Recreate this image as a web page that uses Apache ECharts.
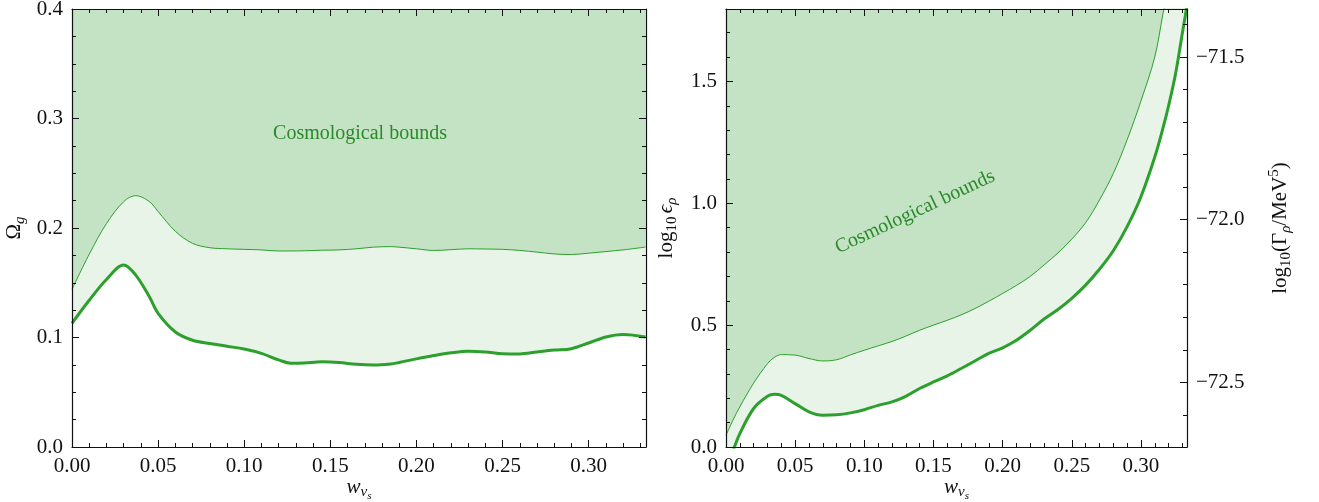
<!DOCTYPE html>
<html>
<head>
<meta charset="utf-8">
<script src="https://cdn.jsdelivr.net/npm/echarts@6/dist/echarts.min.js"></script>
<style>
html, body { margin: 0; padding: 0; background: #fff; }
#main { width: 1319px; height: 502px; }
</style>
</head>
<body>
<div id="main"></div>
<script>
// left panel: Omega_g bounds vs w
const wLeft = [0, 0.01, 0.02, 0.03, 0.037, 0.045, 0.05, 0.06, 0.07, 0.08, 0.09, 0.10, 0.11, 0.12, 0.127, 0.135,
    0.145, 0.155, 0.165, 0.175, 0.185, 0.19, 0.20, 0.21, 0.22, 0.23, 0.24, 0.25, 0.26, 0.27, 0.28, 0.29, 0.30,
    0.31, 0.32, 0.333];
const omegaUpper = [0.144, 0.176, 0.204, 0.224, 0.2295, 0.224, 0.215, 0.197, 0.186, 0.182, 0.181, 0.1805, 0.180,
    0.179, 0.179, 0.1792, 0.1797, 0.180, 0.181, 0.1825, 0.183, 0.1825, 0.181, 0.1795, 0.1802, 0.181, 0.1808,
    0.1805, 0.1795, 0.178, 0.1763, 0.1758, 0.177, 0.1785, 0.180, 0.1826];
const omegaLower = [0.113, 0.134, 0.153, 0.1662, 0.157, 0.137, 0.122, 0.105, 0.0975, 0.0945, 0.092, 0.0895,
    0.0855, 0.0795, 0.0765, 0.0768, 0.0778, 0.0772, 0.0755, 0.0748, 0.0758, 0.0772, 0.0805, 0.0835, 0.086,
    0.0875, 0.0868, 0.0852, 0.085, 0.0868, 0.0885, 0.0898, 0.095, 0.1005, 0.1028, 0.1005];

// right panel: log10 eps_rho bounds vs w
const wRight = [0, 0.005, 0.01, 0.02, 0.03, 0.035, 0.04, 0.05, 0.06, 0.07, 0.08, 0.09, 0.10, 0.11, 0.12, 0.13,
    0.14, 0.15, 0.16, 0.17, 0.18, 0.19, 0.20, 0.21, 0.22, 0.23, 0.24, 0.25, 0.26, 0.27, 0.28, 0.29, 0.30, 0.31,
    0.316, 0.32, 0.325, 0.33, 0.333];
const epsUpper = [0.048, 0.11, 0.165, 0.262, 0.342, 0.368, 0.379, 0.377, 0.363, 0.353, 0.358, 0.378, 0.397,
    0.415, 0.433, 0.455, 0.479, 0.50, 0.52, 0.542, 0.568, 0.598, 0.63, 0.663, 0.70, 0.747, 0.796, 0.853, 0.92,
    1.013, 1.122, 1.26, 1.42, 1.60, 1.78, 1.89, 2.04, 2.2, 2.3];
const epsLower = [-0.07, -0.015, 0.055, 0.158, 0.208, 0.216, 0.212, 0.178, 0.144, 0.130, 0.132, 0.140, 0.153,
    0.171, 0.185, 0.208, 0.24, 0.267, 0.292, 0.322, 0.353, 0.384, 0.407, 0.438, 0.479, 0.525, 0.564, 0.61,
    0.664, 0.729, 0.805, 0.904, 1.027, 1.19, 1.31, 1.40, 1.53, 1.70, 1.80];

// tick labels
const wTicks = [0, 0.05, 0.10, 0.15, 0.20, 0.25, 0.30];
const omegaTicks = [0, 0.1, 0.2, 0.3, 0.4];
const epsTicks = [0, 0.5, 1.0, 1.5];
const gammaTicks = [-72.5, -72.0, -71.5];
const wMinor = [0.01, 0.02, 0.03, 0.04, 0.06, 0.07, 0.08, 0.09, 0.11, 0.12, 0.13, 0.14, 0.16, 0.17, 0.18, 0.19,
    0.21, 0.22, 0.23, 0.24, 0.26, 0.27, 0.28, 0.29, 0.31, 0.32, 0.33];
const omegaMinor = [0.025, 0.05, 0.075, 0.125, 0.15, 0.175, 0.225, 0.25, 0.275, 0.325, 0.35, 0.375];
const epsMinor = [0.1, 0.2, 0.3, 0.4, 0.6, 0.7, 0.8, 0.9, 1.1, 1.2, 1.3, 1.4, 1.6, 1.7];
const gammaMinor = [-72.6, -72.4, -72.3, -72.2, -72.1, -71.9, -71.8, -71.7, -71.6, -71.4];

const W_MAX = 0.3333;
const EPS_MAX = 1.797;
const GAMMA_MIN = -72.699, GAMMA_MAX = -71.352;

const FONT = '"Liberation Serif", "DejaVu Serif", serif';
const GREEN = '#2ca02c';
const DARK_FILL = '#c4e3c4';
const LIGHT_FILL = '#e8f4e8';

const rich = {
    r: { fontFamily: FONT, fontSize: 21, color: '#111' },
    i: { fontFamily: FONT, fontSize: 21, fontStyle: 'italic', color: '#111' },
    sub: { fontFamily: FONT, fontSize: 15, color: '#111', padding: [12, 0, 0, 0] },
    subi: { fontFamily: FONT, fontSize: 15, fontStyle: 'italic', color: '#111', padding: [12, 0, 0, 0] },
    xsub: { fontFamily: FONT, fontSize: 15, fontStyle: 'italic', color: '#111', padding: [10, 0, 0, 0] },
    xsubsub: { fontFamily: FONT, fontSize: 11, fontStyle: 'italic', color: '#111', padding: [19, 0, 0, 0] },
    sup: { fontFamily: FONT, fontSize: 15, color: '#111', padding: [0, 0, 12, 0] }
};

function ticksAxis(grid, pos, min, max, values, len, extra) {
    return Object.assign({
        type: 'value', gridIndex: grid, position: pos, offset: 0, min: min, max: max, z: 10,
        nameMoveOverlap: false,
        axisLine: { show: false, onZero: false },
        axisTick: { show: true, inside: true, length: len, customValues: values,
            lineStyle: { color: '#111', width: 1 } },
        axisLabel: { show: false },
        splitLine: { show: false },
        axisPointer: { show: false }
    }, extra || {});
}

function mainAxis(grid, pos, min, max, values, fmt, extra) {
    return ticksAxis(grid, pos, min, max, values, 7, Object.assign({
        axisLine: { show: true, onZero: false, lineStyle: { color: '#111', width: 1.2 } },
        axisLabel: fmt ? { show: true, customValues: values, formatter: fmt, margin: 9,
            fontFamily: FONT, fontSize: 21, color: '#111' } : { show: false }
    }, extra || {}));
}

const fmt2 = v => v.toFixed(2);
const fmt1 = v => v.toFixed(1);
const fmtG = v => v.toFixed(1).replace('-', '\u2212');

const xName = {
    name: '{i|w}{xsub|\u03bd}{xsubsub|s}', nameLocation: 'middle', nameGap: 25,
    nameTextStyle: { rich: rich }
};

const chart = echarts.init(document.getElementById('main'));

const option = {
    animation: false,
    backgroundColor: '#fff',
    grid: [
        { left: 72, top: 9, width: 574, height: 438, outerBoundsMode: 'none', containLabel: false },
        { left: 726, top: 9, width: 461, height: 438, outerBoundsMode: 'none', containLabel: false }
    ],
    xAxis: [
        mainAxis(0, 'bottom', 0, W_MAX, wTicks, fmt2, xName),
        ticksAxis(0, 'bottom', 0, W_MAX, wMinor, 4),
        mainAxis(0, 'top', 0, W_MAX, wTicks, null),
        ticksAxis(0, 'top', 0, W_MAX, wMinor, 4),
        mainAxis(1, 'bottom', 0, W_MAX, wTicks, fmt2, xName),
        ticksAxis(1, 'bottom', 0, W_MAX, wMinor, 4),
        mainAxis(1, 'top', 0, W_MAX, wTicks, null),
        ticksAxis(1, 'top', 0, W_MAX, wMinor, 4)
    ],
    yAxis: [
        mainAxis(0, 'left', 0, 0.4, omegaTicks, fmt1, {
            name: '{r|\u03a9}{subi|g}', nameLocation: 'middle', nameRotate: 90, nameGap: 44,
            nameTextStyle: { rich: rich }
        }),
        ticksAxis(0, 'left', 0, 0.4, omegaMinor, 4),
        mainAxis(0, 'right', 0, 0.4, omegaTicks, null),
        ticksAxis(0, 'right', 0, 0.4, omegaMinor, 4),
        mainAxis(1, 'left', 0, EPS_MAX, epsTicks, fmt1, {
            name: '{r|log}{sub|10} {i|\u03f5}{subi|\u03c1}', nameLocation: 'middle', nameRotate: 90, nameGap: 46,
            nameTextStyle: { rich: rich }
        }),
        ticksAxis(1, 'left', 0, EPS_MAX, epsMinor, 4),
        mainAxis(1, 'right', GAMMA_MIN, GAMMA_MAX, gammaTicks, fmtG, {
            name: '{r|log}{sub|10}{r|(\u0393}{subi|\u03c1}{r|/MeV}{sup|5}{r|)}', nameLocation: 'middle',
            nameRotate: 90, nameGap: 80, nameTextStyle: { rich: rich }
        }),
        ticksAxis(1, 'right', GAMMA_MIN, GAMMA_MAX, gammaMinor, 4)
    ],
    series: [
        {
            type: 'line', xAxisIndex: 0, yAxisIndex: 0, smooth: 0.35, showSymbol: false, silent: true,
            data: wLeft.map((w, i) => [w, omegaLower[i]]),
            lineStyle: { width: 0 },
            areaStyle: { origin: 'end', color: LIGHT_FILL, opacity: 1 }
        },
        {
            type: 'line', xAxisIndex: 0, yAxisIndex: 0, smooth: 0.35, showSymbol: false, silent: true,
            data: wLeft.map((w, i) => [w, omegaUpper[i]]),
            lineStyle: { width: 1, color: GREEN },
            areaStyle: { origin: 'end', color: DARK_FILL, opacity: 1 }
        },
        {
            type: 'line', xAxisIndex: 0, yAxisIndex: 0, smooth: 0.35, showSymbol: false, silent: true,
            data: wLeft.map((w, i) => [w, omegaLower[i]]),
            lineStyle: { width: 3, color: GREEN }
        },
        {
            type: 'line', xAxisIndex: 4, yAxisIndex: 4, smooth: 0.35, showSymbol: false, silent: true,
            data: wRight.map((w, i) => [w, epsLower[i]]),
            lineStyle: { width: 0 },
            areaStyle: { origin: 'end', color: LIGHT_FILL, opacity: 1 }
        },
        {
            type: 'line', xAxisIndex: 4, yAxisIndex: 4, smooth: 0.35, showSymbol: false, silent: true,
            data: wRight.map((w, i) => [w, epsUpper[i]]),
            lineStyle: { width: 1, color: GREEN },
            areaStyle: { origin: 'end', color: DARK_FILL, opacity: 1 }
        },
        {
            type: 'line', xAxisIndex: 4, yAxisIndex: 4, smooth: 0.35, showSymbol: false, silent: true,
            data: wRight.map((w, i) => [w, epsLower[i]]),
            lineStyle: { width: 3, color: GREEN }
        }
    ],
    graphic: [
        {
            type: 'text', x: 360, y: 134, z: 20,
            style: { text: 'Cosmological bounds', fill: '#2a8a2a', font: '20px "Liberation Serif"',
                align: 'center', verticalAlign: 'middle' }
        },
        {
            type: 'text', x: 915, y: 212, z: 20, rotation: 25 * Math.PI / 180,
            style: { text: 'Cosmological bounds', fill: '#2a8a2a', font: '20px "Liberation Serif"',
                align: 'center', verticalAlign: 'middle' }
        }
    ]
};

chart.setOption(option);
</script>
</body>
</html>
